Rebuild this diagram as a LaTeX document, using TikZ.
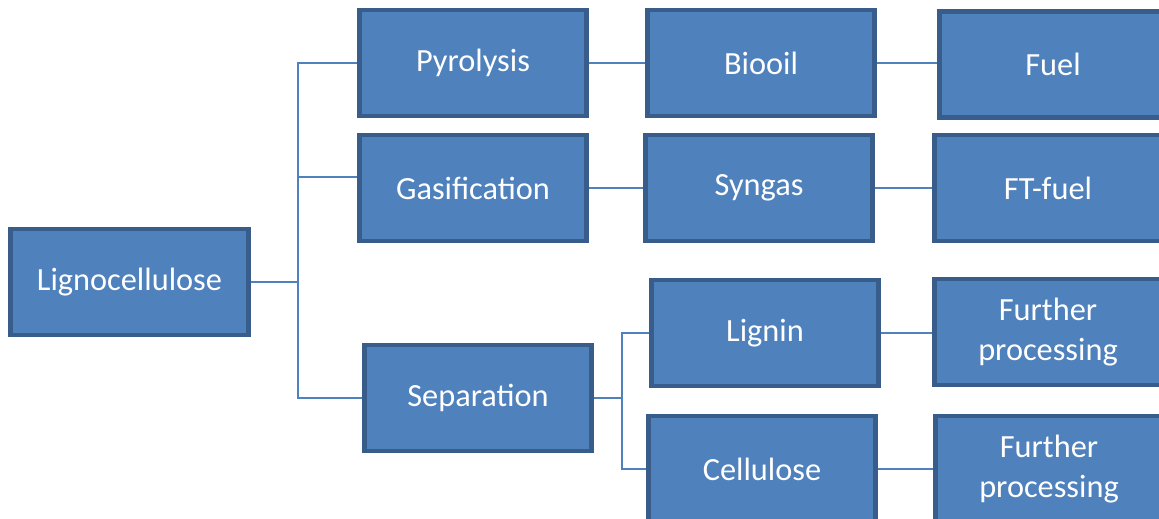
\documentclass[tikz,border=0pt]{standalone}
\usepackage{fontspec}
\setmainfont{Carlito}
\usetikzlibrary{positioning,calc}
\definecolor{boxfill}{HTML}{4F81BD}
\definecolor{boxedge}{HTML}{385D8A}
\definecolor{wire}{HTML}{4F81BD}
\tikzset{stagebox/.style={draw=boxedge,fill=boxfill,line width=3.5pt,align=center,text=white,
 font=\fontsize{23}{28}\selectfont,inner sep=2pt,minimum width=5.675cm,minimum height=2.65cm},
 wirelink/.style={draw=wire,line width=1.7pt}}
\begin{document}
\begin{tikzpicture}[x=0.025cm,y=-0.025cm]
\useasboundingbox (0,0) rectangle (1159,519);
\clip (0,0) rectangle (1159,519);
\node[stagebox,minimum width=5.95cm,minimum height=2.65cm] (lig) at (129.5,282) {Lignocellulose};
\node[stagebox] (pyr) at (473,63) {Pyrolysis};
\node[stagebox] (gas) at (473,188) {Gasification};
\node[stagebox] (sep) at (478,398) {Separation};
\node[stagebox] (oil) at (761,63) {Biooil};
\node[stagebox] (syn) at (759,188) {Syngas};
\node[stagebox] (lgn) at (765,333) {Lignin};
\node[stagebox] (cel) at (762,469) {Cellulose};
\node[stagebox] (fuel) at (1053,64.5) {Fuel};
\node[stagebox] (ftf) at (1048,188) {FT-fuel};
\node[stagebox] (fp1) at (1048,332) {Further\\processing};
\node[stagebox] (fp2) at (1049,469) {Further\\processing};
\coordinate (trunk) at (298,282);
\coordinate (fork) at (622,398);
\draw[wirelink] (lig.east) -- (trunk);
\draw[wirelink] (pyr.west) -| (trunk) |- (sep.west);
\draw[wirelink] ([yshift=8pt]gas.west) -- ([yshift=8pt]gas.west -| trunk);
\draw[wirelink] (sep.east) -- (fork);
\draw[wirelink] (lgn.west) -| (fork) |- (cel.west);
\draw[wirelink] (pyr.east) -- (oil.west);\draw[wirelink] (oil.east) -- (oil.east -| fuel.west);
\draw[wirelink] (gas.east) -- (syn.west);\draw[wirelink] (syn.east) -- (ftf.west);
\draw[wirelink] (lgn.east) -- (lgn.east -| fp1.west);\draw[wirelink] (cel.east) -- (cel.east -| fp2.west);
\end{tikzpicture}
\end{document}
